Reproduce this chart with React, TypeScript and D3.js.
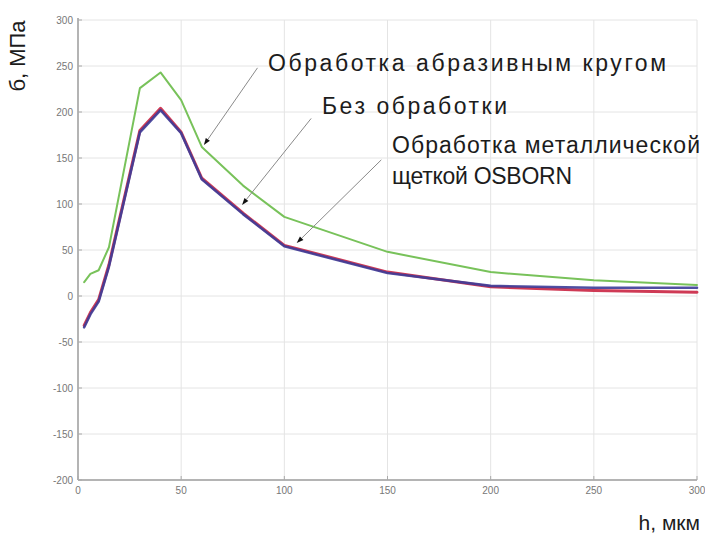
import React from "react";
import * as d3 from "d3";

// depth h, µm
const depth = [3, 6, 10, 15, 30, 40, 50, 60, 80, 100, 150, 200, 250, 300];
// stress σ, MPa
const abrasive = [15, 24, 28, 53, 226, 243, 213, 162, 120, 86, 48, 26, 17, 12];
const untreated = [-32, -18, -4, 34, 180, 204, 178, 128, 90, 55, 26, 10, 6, 4];
const brush = [-34, -20, -6, 32, 178, 202, 177, 127, 89, 54, 25, 11, 9, 9];

const xTicks = [0, 50, 100, 150, 200, 250, 300];
const yTicks = [-200, -150, -100, -50, 0, 50, 100, 150, 200, 250, 300];

// callouts: label anchor (tail) and the point on the curve (tip), in data units
const callouts = [
  { tail: [87, 248], tip: [61, 164] },
  { tail: [113, 193], tip: [79.5, 99] },
  { tail: [147, 148], tip: [106, 57.5] },
];

const W = 705;
const H = 534;
const margin = { top: 20, right: 8, bottom: 54, left: 78 };

const font = "'Liberation Sans', Arial, sans-serif";

const App: React.FC = () => {
  const x = d3.scaleLinear().domain([0, 300]).range([margin.left, W - margin.right]);
  const y = d3.scaleLinear().domain([-200, 300]).range([H - margin.bottom, margin.top]);

  const line = d3
    .line<[number, number]>()
    .x((d) => x(d[0]))
    .y((d) => y(d[1]));

  const pts = (vals: number[]) => depth.map((h, i) => [h, vals[i]] as [number, number]);

  const x0 = x(0);
  const x1 = x(300);
  const yTop = y(300);
  const yBot = y(-200);

  return (
    <svg
      width={W}
      height={H}
      style={{ position: "absolute", left: 0, top: 0, background: "#fff" }}
    >
      {/* grid */}
      <g stroke="#e4e4e4" strokeWidth={1}>
        {xTicks.slice(1).map((t) => (
          <line key={"gx" + t} x1={x(t)} x2={x(t)} y1={yTop} y2={yBot} />
        ))}
        {yTicks.slice(1).map((t) => (
          <line key={"gy" + t} x1={x0} x2={x1} y1={y(t)} y2={y(t)} />
        ))}
      </g>

      {/* axes */}
      <g stroke="#b4b4b4" strokeWidth={2}>
        <line x1={x0} x2={x0} y1={yTop - 2} y2={yBot} />
        <line x1={x0} x2={x1} y1={yBot} y2={yBot} />
      </g>
      <g stroke="#aaa" strokeWidth={1}>
        {yTicks.map((t) => (
          <line key={"ty" + t} x1={x0} x2={x0 + 4} y1={y(t)} y2={y(t)} />
        ))}
        {xTicks.map((t) => (
          <line key={"tx" + t} x1={x(t)} x2={x(t)} y1={yBot} y2={yBot - 4} />
        ))}
      </g>

      <g fontFamily={font} fontSize={10} fill="#777">
        {yTicks.map((t) => (
          <text key={"ly" + t} x={x0 - 5} y={y(t)} dy="0.35em" textAnchor="end">
            {t}
          </text>
        ))}
        {xTicks.map((t) => (
          <text key={"lx" + t} x={x(t)} y={yBot + 14} textAnchor="middle">
            {t}
          </text>
        ))}
      </g>

      {/* curves */}
      <g fill="none" strokeLinejoin="round" strokeLinecap="round">
        <path d={line(pts(abrasive)) ?? ""} stroke="#78c25a" strokeWidth={2} />
        <path d={line(pts(untreated)) ?? ""} stroke="#cf3a55" strokeWidth={3} />
        <path d={line(pts(brush)) ?? ""} stroke="#3c3c98" strokeWidth={2.6} opacity={0.9} />
      </g>

      {/* callout arrows */}
      {callouts.map((c, i) => {
        const tx = x(c.tail[0]);
        const ty = y(c.tail[1]);
        const px = x(c.tip[0]);
        const py = y(c.tip[1]);
        const a = Math.atan2(py - ty, px - tx);
        const len = 7;
        const w = 2.5;
        const bx = px - len * Math.cos(a);
        const by = py - len * Math.sin(a);
        const head = [
          [px, py],
          [bx + w * Math.sin(a), by - w * Math.cos(a)],
          [bx - w * Math.sin(a), by + w * Math.cos(a)],
        ]
          .map((p) => p.join(","))
          .join(" ");
        return (
          <g key={"c" + i}>
            <line x1={tx} y1={ty} x2={bx} y2={by} stroke="#8a8a8a" strokeWidth={1} />
            <polygon points={head} fill="#111" />
          </g>
        );
      })}

      {/* annotations */}
      <g fontFamily={font} fontSize={23} fill="#1c1c1c">
        <text x={268} y={71} textLength={398} lengthAdjust="spacing">
          Обработка абразивным кругом
        </text>
        <text x={322} y={114} textLength={185} lengthAdjust="spacing">
          Без обработки
        </text>
        <text x={392} y={153} textLength={308} lengthAdjust="spacing">
          Обработка металлической
        </text>
        <text x={392} y={184} textLength={180} lengthAdjust="spacing">
          щеткой OSBORN
        </text>
      </g>

      {/* axis titles */}
      <text
        transform="translate(25,56) rotate(-90)"
        textAnchor="middle"
        fontFamily={font}
        fontSize={22}
        fill="#1c1c1c"
      >
        б, МПа
      </text>
      <text x={700} y={530} textAnchor="end" fontFamily={font} fontSize={21} fill="#1c1c1c">
        h, мкм
      </text>
    </svg>
  );
};

export default App;
